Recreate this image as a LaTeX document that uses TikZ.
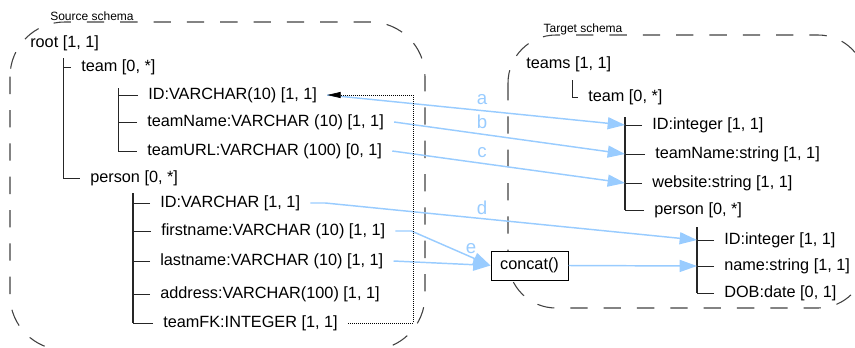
\documentclass[tikz,border=0pt]{standalone}
\usepackage{fontspec}
\setmainfont{Liberation Sans}
\usetikzlibrary{arrows.meta,positioning}

\begin{document}
\begin{tikzpicture}[x=0.75pt,y=-0.75pt,
  field/.style={anchor=west, inner xsep=7.5pt, inner ysep=1pt, font=\fontsize{12.2}{14}\selectfont},
  schema/.style={draw=black!75, line width=0.8pt, dash pattern=on 13pt off 12pt},
  schemalabel/.style={font=\fontsize{9}{10}\selectfont},
  trunk/.style={draw=black!85, line width=1.2pt},
  twig/.style={draw=black!85, line width=0.7pt},
  map/.style={draw=mapblue, line width=1.1pt, -{Triangle[length=13pt,width=9pt]}},
  maplabel/.style={text=mapblue, font=\fontsize{14}{16}\selectfont},
  fkey/.style={draw, densely dotted, line width=0.5pt, -{Triangle[length=10pt,width=4.5pt]}}]

\definecolor{mapblue}{rgb}{0.6,0.8,1}

    \clip (0,0) rectangle (855,347);

    %% schema borders
    \draw[schema, rounded corners=41pt] (10,22) rectangle (425,350);
    \draw[schema, rounded corners=36pt] (508,35) rectangle (866,308);
    \node[schemalabel] (srclabel) at (92,16) {Source schema};
    \node[schemalabel] (tgtlabel) at (583,29) {Target schema};

    %% source schema
    \node[field] (root) at (20,43) {root [1, 1]};
    \node[field] (steam) at (71,67) {team [0, *]};
    \node[field] (sid) at (138,95) {ID:VARCHAR(10) [1, 1]};
    \node[field] (sname) at (137,122) {teamName:VARCHAR (10) [1, 1]};
    \node[field] (surl) at (137,151) {teamURL:VARCHAR (100) [0, 1]};
    \node[field] (sperson) at (80,178) {person [0, *]};
    \node[field] (pid) at (150,203) {ID:VARCHAR [1, 1]};
    \node[field] (pfirst) at (151,231) {firstname:VARCHAR (10) [1, 1]};
    \node[field] (plast) at (150,261) {lastname:VARCHAR (10) [1, 1]};
    \node[field] (paddr) at (150,294) {address:VARCHAR(100) [1, 1]};
    \node[field] (pfk) at (153,323) {teamFK:INTEGER [1, 1]};

    \coordinate (rootline) at (63,0);
    \coordinate (steamline) at (118,0);
    \coordinate (spersonline) at (133,0);
    \draw[twig] (63,58) |- (sperson.west);
    \draw[twig] (steam.west) -- (steam.west -| rootline);
    \draw[twig] (118,88) |- (surl.west);
    \draw[twig] (sid.west) -- (sid.west -| steamline);
    \draw[twig] (sname.west) -- (sname.west -| steamline);
    \draw[trunk] (133,193) -- (pfk.west -| spersonline);
    \draw[twig] (pid.west) -- (pid.west -| spersonline);
    \draw[twig] (pfirst.west) -- (pfirst.west -| spersonline);
    \draw[twig] (plast.west) -- (plast.west -| spersonline);
    \draw[twig] (paddr.west) -- (paddr.west -| spersonline);
    \draw[twig] (pfk.west) -- (pfk.west -| spersonline);

    %% target schema
    \node[field] (tteams) at (516,64) {teams [1, 1]};
    \node[field] (tteam) at (578,97) {team [0, *]};
    \node[field] (tid) at (642,125) {ID:integer [1, 1]};
    \node[field] (tname) at (645,154) {teamName:string [1, 1]};
    \node[field] (tweb) at (642,183) {website:string [1, 1]};
    \node[field] (tperson) at (644,210) {person [0, *]};
    \node[field] (tpid) at (714,240) {ID:integer [1, 1]};
    \node[field] (tpname) at (714,266) {name:string [1, 1]};
    \node[field] (tdob) at (714,293) {DOB:date [0, 1]};

    \coordinate (tteamline) at (625,0);
    \coordinate (tpersonline) at (697,0);
    \draw[twig] (572,80) |- (tteam.west);
    \draw[trunk] (625,117) -- (tperson.west -| tteamline);
    \draw[twig] (tid.west) -- (tid.west -| tteamline);
    \draw[twig] (tname.west) -- (tname.west -| tteamline);
    \draw[twig] (tweb.west) -- (tweb.west -| tteamline);
    \draw[twig] (tperson.west) -- (tperson.west -| tteamline);
    \draw[trunk] (697,227) -- (tdob.west -| tpersonline);
    \draw[twig] (tpid.west) -- (tpid.west -| tpersonline);
    \draw[twig] (tpname.west) -- (tpname.west -| tpersonline);
    \draw[twig] (tdob.west) -- (tdob.west -| tpersonline);

    % function
    \node[draw, fill=white, line width=0.75pt, minimum width=57.75pt, minimum height=21.75pt,
          font=\fontsize{12.2}{14}\selectfont] (concat) at (529.5,265.5) {concat()};

    % mappings
    \draw[map] (sid.east) -- (tid.west -| tteamline);
    \draw[map] (sname.east) -- (tname.west -| tteamline);
    \draw[map] (surl.east) -- (tweb.west -| tteamline);
    \draw[map] (pid.east) -- ++(15,0) -- (tpid.west -| tpersonline);
    \draw[map] (pfirst.east) -- ++(16,0) -- (concat.west);
    \draw[map] (plast.east) -- (concat.west);
    \draw[map] (concat.east) -- (tpname.west -| tpersonline);
    \node[maplabel] (la) at (482,100) {a};
    \node[maplabel] (lb) at (482,122) {b};
    \node[maplabel] (lc) at (482,153) {c};
    \node[maplabel] (ld) at (482,208) {d};
    \node[maplabel] (le) at (471,249) {e};

    % foreign key
    \draw[fkey] (pfk.east) -- ++(65,0) |- (sid.east);
\end{tikzpicture}
\end{document}
